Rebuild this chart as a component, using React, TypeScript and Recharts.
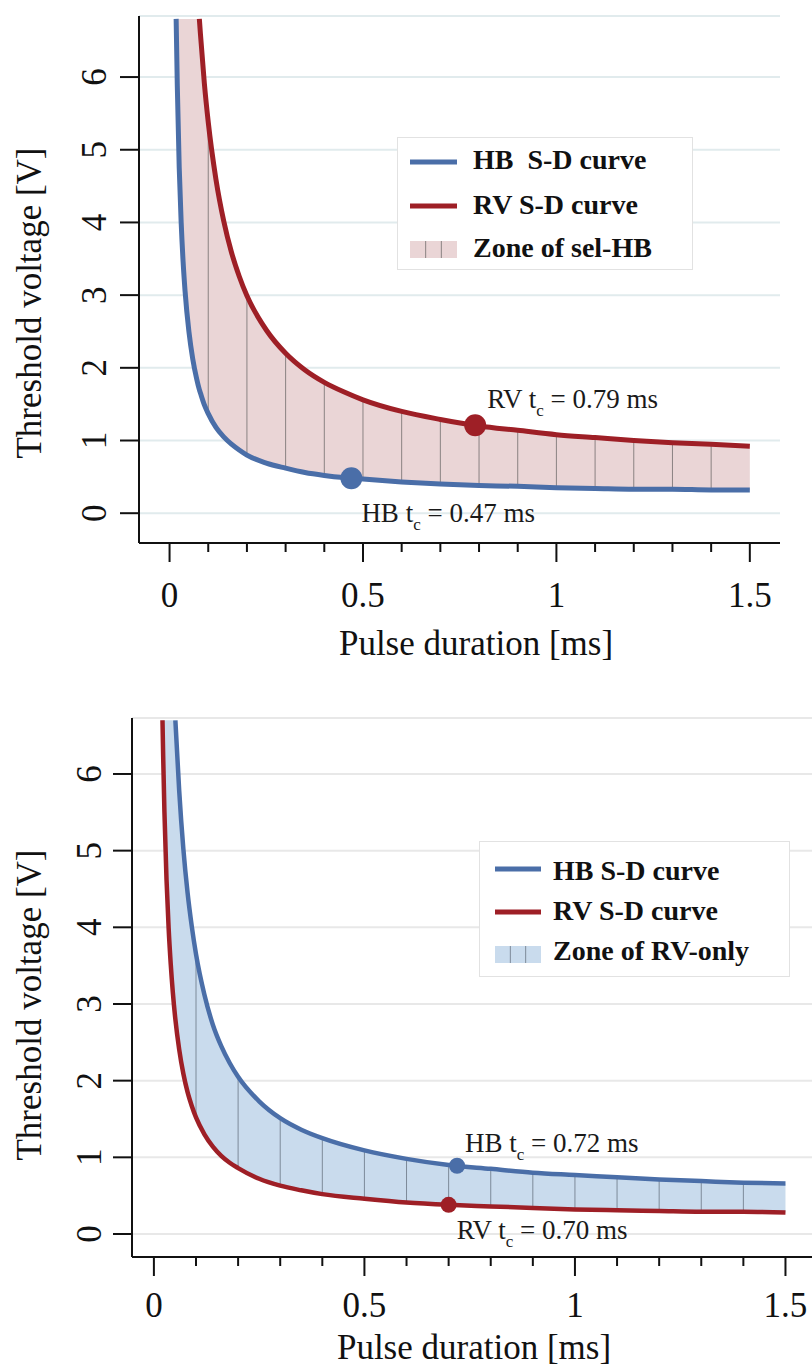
import {
  Area,
  CartesianGrid,
  ComposedChart,
  Label,
  Legend,
  Line,
  ReferenceDot,
  ReferenceLine,
  XAxis,
  YAxis,
} from "recharts";

const FONT = '"Liberation Serif", "Times New Roman", serif';
const BLUE = "#4a6ea8";
const RED = "#9e1f26";
const TXT = { fontFamily: FONT };

// shared ticks
const X_TICKS = [0, 0.1, 0.2, 0.3, 0.4, 0.5, 0.6, 0.7, 0.8, 0.9, 1, 1.1, 1.2, 1.3, 1.4, 1.5];
const Y_TICKS = [0, 1, 2, 3, 4, 5, 6];
const HATCH_T = [0.1, 0.2, 0.3, 0.4, 0.5, 0.6, 0.7, 0.8, 0.9, 1, 1.1, 1.2, 1.3, 1.4];

// panel A: zone of selective HB capture
const T_A = [0.017, 0.02, 0.025, 0.03, 0.035, 0.04, 0.05, 0.06, 0.07, 0.077, 0.08, 0.09, 0.1, 0.12, 0.14, 0.16, 0.18, 0.2, 0.25, 0.3, 0.35, 0.4, 0.45, 0.5, 0.6, 0.7, 0.8, 0.9, 1, 1.1, 1.2, 1.3, 1.4, 1.5];
const HB_A = [6.8, 5.88, 4.75, 4.0, 3.46, 3.06, 2.5, 2.12, 1.85, 1.7, 1.65, 1.49, 1.37, 1.18, 1.05, 0.95, 0.87, 0.8, 0.69, 0.62, 0.56, 0.52, 0.49, 0.47, 0.43, 0.4, 0.38, 0.37, 0.35, 0.34, 0.33, 0.33, 0.32, 0.32];
const RV_A = [null, null, null, null, null, null, null, null, null, 6.8, 6.58, 5.91, 5.38, 4.59, 4.02, 3.59, 3.26, 2.99, 2.52, 2.2, 1.97, 1.8, 1.67, 1.56, 1.4, 1.29, 1.2, 1.14, 1.08, 1.04, 1.0, 0.97, 0.95, 0.92];
const ZONE_CAP_A = 6.8;
const TC_A = [
  { series: "HB", t: 0.47, v: 0.48 },
  { series: "RV", t: 0.79, v: 1.21 },
];
const LEGEND_A = ["HB\u00a0 S-D curve", "RV S-D curve", "Zone of sel-HB"];

// panel B: zone of RV-only capture
const T_B = [0.0204, 0.022, 0.025, 0.03, 0.035, 0.04, 0.045, 0.051, 0.06, 0.07, 0.08, 0.09, 0.1, 0.12, 0.14, 0.16, 0.18, 0.2, 0.25, 0.3, 0.35, 0.4, 0.5, 0.6, 0.7, 0.8, 0.9, 1, 1.1, 1.2, 1.3, 1.4, 1.5];
const RV_B = [6.7, 6.24, 5.51, 4.62, 3.99, 3.52, 3.15, 2.8, 2.41, 2.09, 1.85, 1.67, 1.52, 1.3, 1.14, 1.02, 0.93, 0.86, 0.72, 0.63, 0.57, 0.52, 0.46, 0.41, 0.38, 0.36, 0.34, 0.32, 0.31, 0.3, 0.29, 0.29, 0.28];
const HB_B = [null, null, null, null, null, null, null, 6.7, 5.79, 5.02, 4.45, 4.01, 3.65, 3.12, 2.73, 2.45, 2.23, 2.05, 1.73, 1.51, 1.36, 1.25, 1.09, 0.98, 0.9, 0.85, 0.8, 0.77, 0.74, 0.71, 0.69, 0.67, 0.66];
const ZONE_CAP_B = 6.7;
const TC_B = [
  { series: "HB", t: 0.72, v: 0.89 },
  { series: "RV", t: 0.7, v: 0.38 },
];
const LEGEND_B = ["HB S-D curve", "RV S-D curve", "Zone of RV-only"];

const SERIES_COLOR: Record<string, string> = { HB: BLUE, RV: RED };

const PANEL_A = {
  top: 0,
  height: 680,
  margin: { top: 16, right: 32, left: 0, bottom: 0 },
  yAxisWidth: 139,
  xAxisHeight: 137,
  xDomain: [-0.079, 1.578],
  yDomain: [-0.41, 6.84],
  lineWidth: 5,
  dotR: 11,
  fill: "#ead5d6",
  hatch: "#8a8282",
  grid: "#e1ebed",
  xTickDy: 64,
  yTickDx: 33,
  yLabel: [41, 303],
  xLabel: [476, 655],
  tcOffset: { HB: [10, 44], RV: [12, -17] } as Record<string, number[]>,
  legend: { left: 397, top: 137, width: 296, height: 133, swX: 13, swW: 47, textX: 76, sw: [25, 69, 104], base: [32, 77, 120] },
};

const PANEL_B = {
  top: 680,
  height: 690,
  margin: { top: 38, right: 0, left: 0, bottom: 0 },
  yAxisWidth: 132,
  xAxisHeight: 113,
  xDomain: [-0.052, 1.563],
  yDomain: [-0.3, 6.73],
  lineWidth: 4.5,
  dotR: 8,
  fill: "#c9dbed",
  hatch: "#7d8a99",
  grid: "#e8e8e8",
  xTickDy: 60,
  yTickDx: 31,
  yLabel: [41, 325],
  xLabel: [474, 679],
  tcOffset: { HB: [8, -14], RV: [8, 34] } as Record<string, number[]>,
  legend: { left: 479, top: 161, width: 311, height: 136, swX: 16, swW: 46, textX: 74, sw: [28, 71, 105], base: [39, 79, 119] },
};

function makeXTick(dy: number) {
  return (props: any) => {
    const { x, y, payload } = props;
    const v = payload.value as number;
    const major = Math.abs(v * 2 - Math.round(v * 2)) < 1e-6;
    return (
      <g>
        <line x1={x} x2={x} y1={y + 1} y2={y + (major ? 19 : 9)} stroke="#111" strokeWidth={2} />
        {major && (
          <text x={x} y={y + dy} textAnchor="middle" fontSize={35} fontFamily={FONT} style={TXT} fill="#111">
            {String(v)}
          </text>
        )}
      </g>
    );
  };
}

function makeYTick(dx: number) {
  return (props: any) => {
    const { x, y, payload } = props;
    const tx = x - dx;
    return (
      <g>
        <line x1={x - 19} x2={x} y1={y} y2={y} stroke="#111" strokeWidth={2} />
        <text
          x={tx}
          y={y}
          transform={`rotate(-90 ${tx} ${y})`}
          textAnchor="middle"
          fontSize={35}
          fontFamily={FONT}
          style={TXT}
          fill="#111"
        >
          {String(payload.value)}
        </text>
      </g>
    );
  };
}

function tcLabel(series: string, t: number, dx: number, dy: number) {
  return (props: any) => {
    const vb = props.viewBox;
    const cx = vb.x + vb.width / 2;
    const cy = vb.y + vb.height / 2;
    return (
      <text x={cx + dx} y={cy + dy} fontFamily={FONT} style={TXT} fontSize={27} fill="#1a1a1a">
        {series + " t"}
        <tspan fontSize={17} dy={8}>c</tspan>
        <tspan dy={-8}>{" = " + t.toFixed(2) + " ms"}</tspan>
      </text>
    );
  };
}

function legendContent(labels: string[], cfg: any, fill: string) {
  const L = cfg.legend;
  return () => (
    <svg width={L.width} height={L.height} style={{ display: "block" }}>
      <rect x={0.5} y={0.5} width={L.width - 1} height={L.height - 1} fill="#fff" stroke="#e2e2e2" />
      <line x1={L.swX} x2={L.swX + L.swW} y1={L.sw[0]} y2={L.sw[0]} stroke={BLUE} strokeWidth={5} />
      <line x1={L.swX} x2={L.swX + L.swW} y1={L.sw[1]} y2={L.sw[1]} stroke={RED} strokeWidth={5} />
      <rect x={L.swX} y={L.sw[2]} width={L.swW} height={17} fill={fill} />
      <line x1={L.swX + L.swW / 3} x2={L.swX + L.swW / 3} y1={L.sw[2]} y2={L.sw[2] + 17} stroke={cfg.hatch} strokeWidth={1} />
      <line x1={L.swX + (2 * L.swW) / 3} x2={L.swX + (2 * L.swW) / 3} y1={L.sw[2]} y2={L.sw[2] + 17} stroke={cfg.hatch} strokeWidth={1} />
      {labels.map((s, i) => (
        <text key={i} x={L.textX} y={L.base[i]} fontFamily={FONT} style={TXT} fontWeight="bold" fontSize={28} fill="#111">
          {s}
        </text>
      ))}
    </svg>
  );
}

function SDPanel({
  cfg,
  t,
  hb,
  rv,
  upper,
  cap,
  tc,
  legend,
}: {
  cfg: typeof PANEL_A;
  t: number[];
  hb: (number | null)[];
  rv: (number | null)[];
  upper: "hb" | "rv";
  cap: number;
  tc: { series: string; t: number; v: number }[];
  legend: string[];
}) {
  const rows = t.map((x, i) => {
    const lo = upper === "rv" ? hb[i] : rv[i];
    const hi = upper === "rv" ? rv[i] : hb[i];
    return { t: x, hb: hb[i], rv: rv[i], lo, hi, zone: [lo, hi ?? cap] };
  });
  const hatch = HATCH_T.map((h) => rows.find((r) => Math.abs(r.t - h) < 1e-9)!);

  return (
    <div style={{ position: "absolute", left: 0, top: cfg.top, width: 812, height: cfg.height }}>
      <ComposedChart width={812} height={cfg.height} data={rows} margin={cfg.margin}>
        <CartesianGrid horizontal vertical={false} stroke={cfg.grid} strokeWidth={2} />
        <XAxis
          dataKey="t"
          type="number"
          domain={cfg.xDomain}
          allowDataOverflow
          ticks={X_TICKS}
          interval={0}
          height={cfg.xAxisHeight}
          tickSize={0}
          tickMargin={0}
          tickLine={false}
          axisLine={{ stroke: "#111", strokeWidth: 2 }}
          tick={makeXTick(cfg.xTickDy)}
        >
          <Label
            content={() => (
              <text x={cfg.xLabel[0]} y={cfg.xLabel[1]} textAnchor="middle" fontSize={35} fontFamily={FONT} style={TXT} fill="#111">
                Pulse duration [ms]
              </text>
            )}
          />
        </XAxis>
        <YAxis
          type="number"
          domain={cfg.yDomain}
          allowDataOverflow
          ticks={Y_TICKS}
          interval={0}
          width={cfg.yAxisWidth}
          tickSize={0}
          tickMargin={0}
          tickLine={false}
          axisLine={{ stroke: "#111", strokeWidth: 2 }}
          tick={makeYTick(cfg.yTickDx)}
        >
          <Label
            content={() => (
              <text
                x={cfg.yLabel[0]}
                y={cfg.yLabel[1]}
                transform={`rotate(-90 ${cfg.yLabel[0]} ${cfg.yLabel[1]})`}
                textAnchor="middle"
                fontSize={35}
                fontFamily={FONT}
                style={TXT}
                fill="#111"
              >
                Threshold voltage [V]
              </text>
            )}
          />
        </YAxis>

        <Area
          dataKey="zone"
          type="monotone"
          stroke="none"
          fill={cfg.fill}
          fillOpacity={1}
          isAnimationActive={false}
          activeDot={false}
        />

        {hatch.map((r) => (
          <ReferenceLine
            key={r.t}
            segment={[
              { x: r.t, y: r.lo as number },
              { x: r.t, y: r.hi as number },
            ]}
            stroke={cfg.hatch}
            strokeWidth={1}
            zIndex={300}
          />
        ))}

        <Line dataKey="rv" type="monotone" stroke={RED} strokeWidth={cfg.lineWidth} dot={false} activeDot={false} isAnimationActive={false} />
        <Line dataKey="hb" type="monotone" stroke={BLUE} strokeWidth={cfg.lineWidth} dot={false} activeDot={false} isAnimationActive={false} />

        {tc.map((p) => (
          <ReferenceDot
            key={p.series}
            x={p.t}
            y={p.v}
            r={cfg.dotR}
            fill={SERIES_COLOR[p.series]}
            stroke="none"
            zIndex={600}
            label={tcLabel(p.series, p.t, cfg.tcOffset[p.series][0], cfg.tcOffset[p.series][1])}
          />
        ))}

        <Legend
          layout="vertical"
          align="center"
          verticalAlign="middle"
          wrapperStyle={{ left: cfg.legend.left, top: cfg.legend.top, width: cfg.legend.width, height: cfg.legend.height }}
          content={legendContent(legend, cfg, cfg.fill)}
        />
      </ComposedChart>
    </div>
  );
}

export default function App() {
  return (
    <div style={{ position: "absolute", left: 0, top: 0, width: 812, height: 1370, background: "#fff", overflow: "hidden" }}>
      <SDPanel cfg={PANEL_A} t={T_A} hb={HB_A} rv={RV_A} upper="rv" cap={ZONE_CAP_A} tc={TC_A} legend={LEGEND_A} />
      <SDPanel cfg={PANEL_B} t={T_B} hb={HB_B} rv={RV_B} upper="hb" cap={ZONE_CAP_B} tc={TC_B} legend={LEGEND_B} />
    </div>
  );
}
